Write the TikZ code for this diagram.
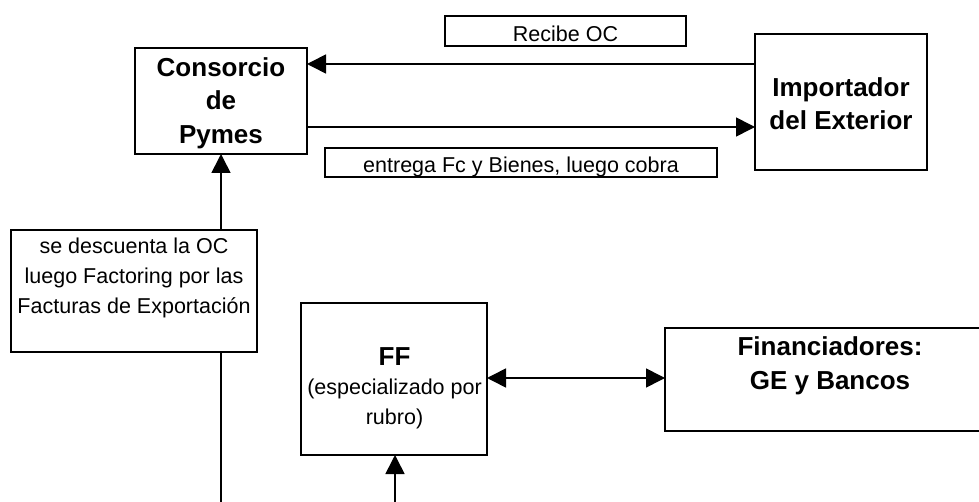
\documentclass[tikz,border=0pt]{standalone}
\usepackage{fontspec}
\setmainfont{Liberation Sans}
\usetikzlibrary{arrows.meta}
\tikzset{
  boxnode/.style={draw=black, line width=1.6pt, fill=white, inner sep=0pt, outer sep=0pt},
  boldtxt/.style={font=\fontsize{26}{33.5}\selectfont\bfseries, align=center, anchor=base, inner sep=0pt},
  regtxt/.style={font=\fontsize{21.5}{29.5}\selectfont, align=center, anchor=base, inner sep=0pt},
  conn/.style={line width=1.6pt, -{Triangle[length=19pt,width=19pt]}},
  dconn/.style={line width=1.6pt, {Triangle[length=19pt,width=19pt]}-{Triangle[length=19pt,width=19pt]}}
}
\begin{document}
\begin{tikzpicture}[x=1pt,y=-1pt]
\useasboundingbox (0,0) rectangle (979,502);
\clip (0,0) rectangle (979,502);
\fill[white] (0,0) rectangle (979,502);

% boxes
\node[boxnode, minimum width=172pt, minimum height=106pt] (cons) at (221,101) {};
\node[boxnode, minimum width=172pt, minimum height=136pt] (imp) at (841,102) {};
\node[boxnode, minimum width=241pt, minimum height=30pt] (recibe) at (565.5,31) {};
\node[boxnode, minimum width=392pt, minimum height=29pt] (entrega) at (521,162.5) {};
\node[boxnode, minimum width=186pt, minimum height=152pt] (ff) at (394,379) {};
\node[boxnode, minimum width=330pt, minimum height=103pt] (fin) at (830,379.5) {};

% coordinates
\coordinate (ytop) at (0,64);
\coordinate (ybot) at (0,127);
\coordinate (ydbl) at (0,378);
\coordinate (bl) at (221,510);
\coordinate (bf) at (395,510);

% connectors
\draw[conn] (imp.west |- ytop) -- (cons.east |- ytop);
\draw[conn] (cons.east |- ybot) -- (imp.west |- ybot);
\draw[dconn] (ff.east |- ydbl) -- (fin.west |- ydbl);
\draw[conn] (bl) -- (cons.south);
\draw[conn] (bf) -- (ff.south -| bf);

% box on the vertical line
\node[boxnode, minimum width=246pt, minimum height=122pt] (desc) at (134,291) {};

% texts (base anchor = baseline of the last line)
\node[boldtxt] (tcons) at (221,143.5) {Consorcio\\de\\Pymes};
\node[boldtxt] (timp) at (841,130) {Importador\\del Exterior};
\node[regtxt] (trecibe) at (565.5,42) {Recibe OC};
\node[regtxt] (tentrega) at (521,173) {entrega Fc y Bienes, luego cobra};
\node[regtxt] (tdesc) at (134,313) {se descuenta la OC\\luego Factoring por las\\Facturas de Exportación};
\node[boldtxt] (tff) at (394.5,365) {FF};
\node[regtxt] (tff2) at (394.5,424) {(especializado por\\rubro)};
\node[boldtxt] (tfin) at (830,389) {Financiadores:\\GE y Bancos};
\end{tikzpicture}
\end{document}
